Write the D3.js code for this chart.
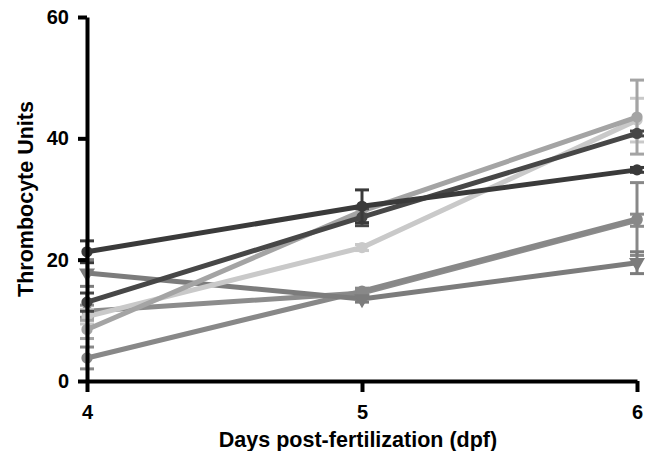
<!DOCTYPE html>
<meta charset="utf-8">
<style>
  body { margin: 0; background: #fff; }
  text { font-family: "Liberation Sans", Arial, sans-serif; font-weight: bold; }
</style>
<svg id="chart" width="650" height="451"></svg>
<script src="https://cdn.jsdelivr.net/npm/d3@7"></script>
<script>

var days = [4, 5, 6];
var yTicks = [0, 20, 40, 60];

// one array per line
var groupA = [21.3, 28.8, 34.8], errA = [1.8, 2.7, 0.4];
var groupB = [13.0, 27.0, 40.8], errB = [1.5, 1.4, 0.4];
var groupC = [10.6, 22.0, 43.0], errC = [1.2, 0.5, 3.6];
var groupD = [8.5, 28.0, 43.5], errD = [1.5, 0.8, 6.1];
var groupE = [17.8, 13.5, 19.5], errE = [2.2, 0.5, 1.8];
var groupF = [3.8, 14.8, 26.7], errF = [1.8, 0.5, 6.0];
var groupG = [11.5, 14.5, 26.5], errG = [1.0, 0.5, 1.0];

var series = [
  {vals: groupG, err: errG, color: "#8c8c8c", sym: d3.symbolCircle},
  {vals: groupF, err: errF, color: "#888888", sym: d3.symbolCircle},
  {vals: groupE, err: errE, color: "#7c7c7c", sym: d3.symbolTriangle, flip: true},
  {vals: groupC, err: errC, color: "#c9c9c9", sym: d3.symbolCircle},
  {vals: groupD, err: errD, color: "#a4a4a4", sym: d3.symbolCircle},
  {vals: groupB, err: errB, color: "#474747", sym: d3.symbolCircle},
  {vals: groupA, err: errA, color: "#3a3a3a", sym: d3.symbolCircle}
];

var svg = d3.select("#chart");

var x = d3.scaleLinear().domain([4, 6]).range([87, 637]);
var y = d3.scaleLinear().domain([0, 60]).range([381, 17]);

// lines, error bars, markers
var line = d3.line()
    .x(function(d, i) { return x(days[i]); })
    .y(function(d) { return y(d); });

var g = svg.append("g");

series.forEach(function(s) {
  var sg = g.append("g");
  sg.selectAll("g.err")
    .data(s.vals)
    .enter().append("g")
    .each(function(d, i) {
      var e = d3.select(this);
      var cx = x(days[i]);
      var top = y(d + s.err[i]), bot = y(d - s.err[i]);
      e.append("line").attr("x1", cx).attr("x2", cx).attr("y1", top).attr("y2", bot)
        .attr("stroke", s.color).attr("stroke-width", 3);
      [top, bot].forEach(function(cy) {
        e.append("line").attr("x1", cx - 7).attr("x2", cx + 7).attr("y1", cy).attr("y2", cy)
          .attr("stroke", s.color).attr("stroke-width", 3);
      });
    });

  sg.append("path")
    .datum(s.vals)
    .attr("d", line)
    .attr("fill", "none")
    .attr("stroke", s.color)
    .attr("stroke-width", 5);

  sg.selectAll("path.pt")
    .data(s.vals)
    .enter().append("path")
    .attr("class", "pt")
    .attr("d", d3.symbol().type(s.sym).size(s.flip ? 110 : 100))
    .attr("transform", function(d, i) {
      return "translate(" + x(days[i]) + "," + y(d) + ")" + (s.flip ? " rotate(180)" : "");
    })
    .attr("fill", s.color);
});

// axes
var yAxis = svg.append("g")
    .attr("transform", "translate(" + x(4) + ",0)")
    .call(d3.axisLeft(y).tickValues(yTicks).tickSize(9).tickSizeOuter(0).tickPadding(9));

var xAxis = svg.append("g")
    .attr("transform", "translate(0," + y(0) + ")")
    .call(d3.axisBottom(x).tickValues(days).tickFormat(d3.format("d")).tickSize(11).tickSizeOuter(0).tickPadding(13));

[yAxis, xAxis].forEach(function(a) {
  a.select(".domain").attr("stroke", "#000").attr("stroke-width", 4);
  a.selectAll(".tick line").attr("stroke", "#000").attr("stroke-width", 4);
  a.selectAll(".tick text").attr("fill", "#000").style("font-size", "20px")
    .style("font-family", "'Liberation Sans', Arial, sans-serif").style("font-weight", "bold");
});

svg.append("text")
    .attr("x", 358)
    .attr("y", 447)
    .attr("text-anchor", "middle")
    .style("font-size", "21.5px")
    .text("Days post-fertilization (dpf)");

svg.append("text")
    .attr("transform", "translate(33,199) rotate(-90)")
    .attr("text-anchor", "middle")
    .style("font-size", "21.5px")
    .text("Thrombocyte Units");

</script>
